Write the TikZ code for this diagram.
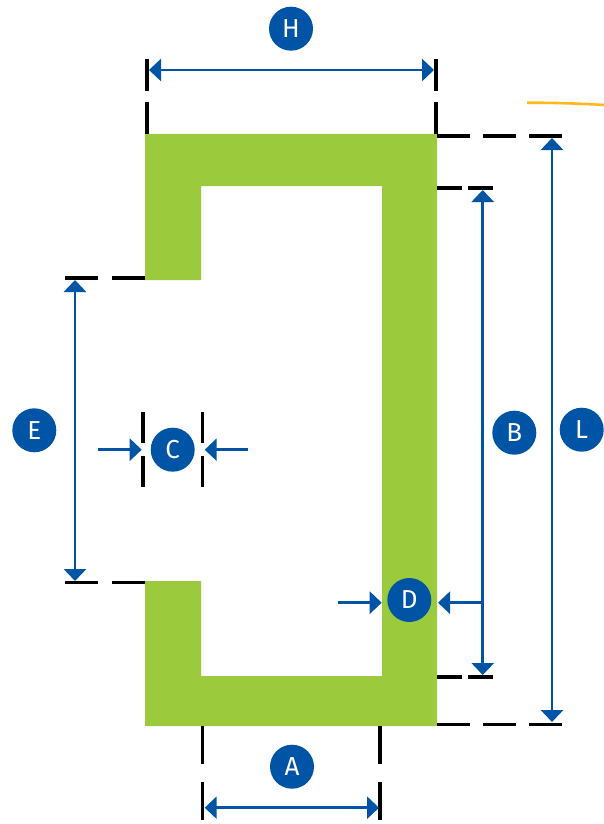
\documentclass[tikz,border=0pt]{standalone}
\usepackage{fontspec}
\setsansfont{Fira Sans}
\usetikzlibrary{arrows.meta}
\definecolor{profilegreen}{RGB}{155,203,60}
\definecolor{dimblue}{RGB}{0,84,166}
\definecolor{markorange}{RGB}{255,184,28}
\tikzset{
  dimline/.style={color=dimblue,line width=2.9pt,>={Triangle[length=12pt,width=22pt]}},
  extline/.style 2 args={color=black,line width=3.4pt,dash pattern=on #1 off #2},
  badge/.style={circle,fill=dimblue,text=white,minimum size=44pt,inner sep=0pt,font=\sffamily\fontsize{26}{26}\selectfont}
}
\begin{document}
\begin{tikzpicture}[x=1pt,y=-1pt]
\useasboundingbox (0,0) rectangle (604,824);

\fill [profilegreen] (145,134) -- (437,134) -- (437,726) -- (145,726) -- (145,581) -- (201,581) -- (201,676) -- (382,676) -- (382,186) -- (201,186) -- (201,280) -- (145,280) -- cycle;

\coordinate (topL) at (147,134);
\coordinate (topLend) at (147,59);
\coordinate (topR) at (436,134);
\coordinate (topRend) at (436,59);
\draw [extline={32pt}{11pt}] (topL) -- (topLend);
\draw [extline={32pt}{11pt}] (topR) -- (topRend);

\coordinate (hookT) at (145,278);
\coordinate (hookTend) at (65,278);
\coordinate (hookB) at (145,582.5);
\coordinate (hookBend) at (65,582.5);
\draw [extline={33pt}{14pt}] (hookT) -- (hookTend);
\draw [extline={33pt}{14pt}] (hookB) -- (hookBend);

\coordinate (outT) at (437,136);
\coordinate (outTend) at (563,136);
\coordinate (outB) at (437,724.5);
\coordinate (outBend) at (563,724.5);
\draw [extline={33pt}{13pt}] (outT) -- (outTend);
\draw [extline={33pt}{13pt}] (outB) -- (outBend);

\coordinate (inT) at (437,188);
\coordinate (inTend) at (493,188);
\coordinate (inB) at (437,677);
\coordinate (inBend) at (493,677);
\draw [extline={25pt}{6pt}] (inT) -- (inTend);
\draw [extline={25pt}{6pt}] (inB) -- (inBend);

\coordinate (botL) at (202.7,726);
\coordinate (botLend) at (202.7,820);
\coordinate (botR) at (380,726);
\coordinate (botRend) at (380,820);
\draw [extline={38pt}{18pt}] (botL) -- (botLend);
\draw [extline={38pt}{18pt}] (botR) -- (botRend);

\coordinate (gapL) at (143,412);
\coordinate (gapLend) at (143,487);
\coordinate (gapR) at (202.7,412);
\coordinate (gapRend) at (202.7,487);
\draw [extline={31pt}{13pt}] (gapL) -- (gapLend);
\draw [extline={31pt}{13pt}] (gapR) -- (gapRend);

\coordinate (dimHl) at (149,70);
\coordinate (dimHr) at (434,70);
\draw [<->,dimline] (dimHl) -- (dimHr);
\coordinate (dimAl) at (204.7,807.7);
\coordinate (dimAr) at (379,807.7);
\draw [<->,dimline] (dimAl) -- (dimAr);
\coordinate (dimEt) at (75,280);
\coordinate (dimEb) at (75,581);
\draw [<->,dimline] (dimEt) -- (dimEb);
\coordinate (dimBt) at (482.7,190);
\coordinate (dimBb) at (482.7,675);
\draw [<->,dimline] (dimBt) -- (dimBb);
\coordinate (dimLt) at (552,138);
\coordinate (dimLb) at (552,722);
\draw [<->,dimline] (dimLt) -- (dimLb);

\coordinate (dimCa) at (97.5,449.7);
\coordinate (dimCb) at (141.7,449.7);
\coordinate (dimCc) at (248,449.7);
\coordinate (dimCd) at (204.7,449.7);
\draw [->,dimline] (dimCa) -- (dimCb);
\draw [->,dimline] (dimCc) -- (dimCd);

\coordinate (dimDa) at (337.7,602.7);
\coordinate (dimDb) at (381.7,602.7);
\coordinate (dimDc) at (482.7,602.7);
\coordinate (dimDd) at (438,602.7);
\draw [->,dimline] (dimDa) -- (dimDb);
\draw [->,dimline] (dimDc) -- (dimDd);

\coordinate (markA) at (527,102.7);
\coordinate (markB) at (604,105);
\draw [color=markorange,line width=2.6pt] (markA) .. controls (555,102.7) and (580,103.5) .. (markB);

\node [badge] (badgeH) at (291,28.7) {H};
\node [badge] (badgeE) at (34.3,430.3) {E};
\node [badge] (badgeC) at (172.7,449.7) {C};
\node [badge] (badgeB) at (514.3,432.7) {B};
\node [badge] (badgeL) at (581.7,429.7) {L};
\node [badge] (badgeD) at (409.3,600) {D};
\node [badge] (badgeA) at (292,766.7) {A};
\end{tikzpicture}
\end{document}
